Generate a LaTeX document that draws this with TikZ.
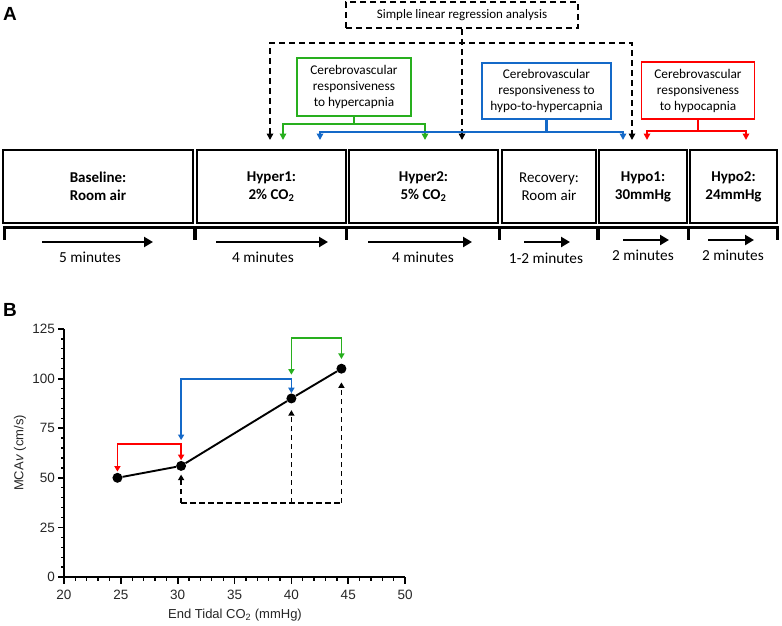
\documentclass[tikz,border=0pt]{standalone}
\usepackage{fontspec}
\setmainfont{Carlito}
\newfontfamily\arialf{Liberation Sans}
\usetikzlibrary{arrows.meta}
\definecolor{cgreen}{RGB}{40,175,30}
\definecolor{cblue}{RGB}{20,105,200}
\definecolor{cred}{RGB}{255,0,0}
\newcommand{\subtwo}{\textsubscript{2}}
\tikzset{
  phase/.style={draw, line width=1.5pt, minimum height=73pt, inner sep=0pt, align=center, font=\fontsize{15}{18}\selectfont},
  cbox/.style={draw, line width=1.8pt, inner sep=0pt, align=center, font=\fontsize{13.3}{16}\selectfont},
  regbox/.style={draw, line width=1.6pt, dash pattern=on 6pt off 4pt, minimum width=232pt, minimum height=26pt, inner sep=0pt, font=\fontsize{13}{16}\selectfont},
  dline/.style={line width=1.6pt, dash pattern=on 6pt off 4pt},
  tipA/.style={{Triangle[length=6.5pt,width=6.5pt]}-{Triangle[length=6.5pt,width=6.5pt]}},
  endA/.style={-{Triangle[length=6.5pt,width=6.5pt]}},
  cline/.style={line width=2.2pt},
  tl/.style={line width=3.2pt},
  dur/.style={line width=2.8pt, -{Triangle[length=9pt,width=10pt]}},
  durlab/.style={font=\fontsize{15.3}{18}\selectfont},
  panel/.style={font=\arialf\bfseries\fontsize{19}{22}\selectfont, anchor=base west, inner sep=0pt},
  axis/.style={line width=1.8pt},
  ylab/.style={font=\arialf\fontsize{13.5}{15}\selectfont, text=black!85, anchor=east, inner sep=0pt},
  xlab/.style={font=\arialf\fontsize{13.5}{15}\selectfont, text=black!85, inner sep=0pt},
  bline/.style={line width=1.8pt},
  tipB/.style={{Triangle[length=5.5pt,width=6pt]}-{Triangle[length=5.5pt,width=6pt]}},
  endB/.style={-{Triangle[length=5.5pt,width=6pt]}},
  dot/.style={circle, fill=black, minimum size=10pt, inner sep=0pt},
  bdash/.style={line width=1.8pt, dash pattern=on 5.5pt off 3.5pt},
}
\begin{document}
\begin{tikzpicture}[x=1pt,y=-1pt]
\useasboundingbox (0,0) rectangle (782,625);
% ---------------- Panel A ----------------
\node[panel] (labA) at (3,20) {A};
% phase boxes
\node[phase, minimum width=190pt] (base) at (98,186.5) {\textbf{Baseline:}\\\textbf{Room air}};
\node[phase, minimum width=149pt] (hy1) at (271.5,186.5) {\textbf{Hyper1:}\\\textbf{2\% CO\subtwo}};
\node[phase, minimum width=149pt] (hy2) at (423.5,186.5) {\textbf{Hyper2:}\\\textbf{5\% CO\subtwo}};
\node[phase, minimum width=94pt] (rec) at (549,186.5) {Recovery:\\Room air};
\node[phase, minimum width=88pt] (hp1) at (643,186.5) {\textbf{Hypo1:}\\\textbf{30mmHg}};
\node[phase, minimum width=87pt] (hp2) at (733.5,186.5) {\textbf{Hypo2:}\\\textbf{24mmHg}};
% timeline
\draw[tl] (3,227.5) -- (779,227.5);
\foreach \x in {4.5,195,346.5,499.5,598,688.5,777.5} \draw[tl] (\x,226) -- (\x,240);
\draw[dur] (42,242) -- (153,242);
\draw[dur] (216,242) -- (328,242);
\draw[dur] (368,242) -- (472,242);
\draw[dur] (524,242) -- (570,242);
\draw[dur] (623,240) -- (669,240);
\draw[dur] (708,240) -- (754,240);
\node[durlab] (d1) at (90,257.5) {5 minutes};
\node[durlab] (d2) at (263,257.5) {4 minutes};
\node[durlab] (d3) at (423,257.5) {4 minutes};
\node[durlab] (d4) at (546,258.5) {1-2 minutes};
\node[durlab] (d5) at (643,255.5) {2 minutes};
\node[durlab] (d6) at (733,255.5) {2 minutes};
% regression box
\node[regbox] (reg) at (462,15) {Simple linear regression analysis};
\coordinate (dm) at (462,140);
\coordinate (dlt) at (270,140);
\coordinate (drc) at (632,43);
\coordinate (drt) at (632,140);
\draw[dline, endA] (reg.south) -- (dm);
\draw[dline, tipA] (dlt) |- (drc) -- (drt);
% green
\node[cbox, draw=cgreen, minimum width=114pt, minimum height=58pt] (gbox) at (354,87) {Cerebrovascular\\responsiveness\\to hypercapnia};
\coordinate (gbar) at (354,124);
\coordinate (gla) at (283,140);
\coordinate (gra) at (425,140);
\draw[cline, cgreen] (gbox) -- (gbar);
\draw[cline, cgreen, tipA] (gla) |- (gbar) -| (gra);
% blue
\node[cbox, draw=cblue, minimum width=129pt, minimum height=56pt] (bbox) at (546.5,91) {Cerebrovascular\\responsiveness to\\hypo-to-hypercapnia};
\coordinate (bbar) at (546.5,132);
\coordinate (bla) at (320,140);
\coordinate (bra) at (623,140);
\draw[cline, cblue] (bbox) -- (bbar);
\draw[cline, cblue, tipA] (bla) |- (bbar) -| (bra);
% red
\node[cbox, draw=cred, minimum width=113pt, minimum height=57pt] (rbox) at (698,90.5) {Cerebrovascular\\responsiveness\\to hypocapnia};
\coordinate (rbar) at (698,131);
\coordinate (rla) at (647,140);
\coordinate (rra) at (746,140);
\draw[cline, cred] (rbox) -- (rbar);
\draw[cline, cred, tipA] (rla) |- (rbar) -| (rra);
% ---------------- Panel B ----------------
\node[panel] (labB) at (3,316) {B};
\node[font=\arialf\fontsize{13}{15}\selectfont, text=black!85, rotate=90] (ytitle) at (20,453) {MCA\textit{v} (cm/s)};
\node[font=\arialf\fontsize{13}{15}\selectfont, text=black!85] (xtitle) at (235,615) {End Tidal CO\subtwo\ (mmHg)};
\begin{scope}[shift={(-163.4,577)}, x=11.37pt, y=1.984pt]
  \foreach \v in {5,10,...,120} \draw[line width=1.3pt] (20,\v) -- ++(-3.5pt,0);
  \foreach \v in {21,...,49} \draw[line width=1.3pt] (\v,0) -- ++(0,-4pt);
  \foreach \v in {0,25,...,125} {
    \draw[axis] (20,\v) -- ++(-6.5pt,0);
    \node[ylab] at ([xshift=-9pt]20,\v) {\v};
  }
  \foreach \v in {20,25,...,50} {
    \draw[axis] (\v,0) -- ++(0,-7pt);
    \node[xlab] at ([yshift=-18pt]\v,0) {\v};
  }
  \draw[axis] (20,125) -- (20,0) -- (50,0);
  % data
  \node[dot] (p1) at (24.7,50) {};
  \node[dot] (p2) at (30.3,56) {};
  \node[dot] (p3) at (40,90) {};
  \node[dot] (p4) at (44.4,105) {};
  \draw[line width=1.9pt] (p1) -- (p2) -- (p3) -- (p4);
  % red bracket
  \coordinate (r2) at (30.3,67);
  \draw[bline, cred, tipB, shorten <=1pt, shorten >=0.5pt] (p1) |- (r2) -- (p2);
  % blue bracket
  \coordinate (b1e) at (30.3,69);
  \coordinate (b2) at (40,100);
  \draw[bline, cblue, tipB] (b1e) |- (b2) -- (p3);
  % green bracket
  \coordinate (g1e) at (40,102);
  \coordinate (g2) at (44.4,120.5);
  \draw[bline, cgreen, tipB, shorten >=4.5pt] (g1e) |- (g2) -- (p4);
  % black dashed
  \coordinate (k1) at (30.3,37.3);
  \coordinate (k2) at (40,37.3);
  \coordinate (k3) at (44.4,37.3);
  \draw[bdash] (k1) -- (k3);
  \draw[bdash, endB, shorten >=3.5pt] (k1) -- (p2);
  \draw[bdash, endB, shorten >=6.5pt] (k2) -- (p3);
  \draw[bdash, endB, shorten >=8.5pt] (k3) -- (p4);
\end{scope}
\end{tikzpicture}
\end{document}
